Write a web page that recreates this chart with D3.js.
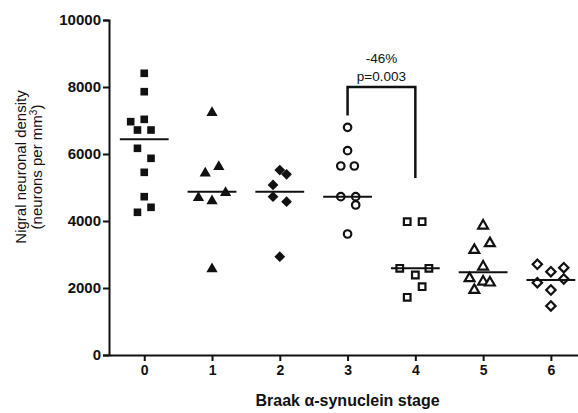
<!DOCTYPE html>
<html>
<head>
<meta charset="utf-8">
<script src="https://cdn.jsdelivr.net/npm/d3@7"></script>
<style>
  body { margin: 0; background: #fff; }
  svg text { font-family: "Liberation Sans", Arial, sans-serif; fill: #111; }
</style>
</head>
<body>
<svg id="chart" width="578" height="413"></svg>
<script>
// stages on the x axis
const stages = [0, 1, 2, 3, 4, 5, 6];
// y ticks
const yTicks = [0, 2000, 4000, 6000, 8000, 10000];

// neuronal density per stage (neurons per mm3)
const stage0 = [8409, 7860, 6965, 7035, 6716, 6716, 6170, 5871, 5453, 4726, 4260, 4409];
const stage1 = [7234, 5423, 5622, 4697, 4597, 4846, 2567];
const stage2 = [5522, 5394, 5075, 4726, 4576, 2934];
const stage3 = [6797, 6099, 5642, 5642, 4726, 4726, 4478, 3612];
const stage4 = [3980, 3980, 2587, 2388, 2587, 2040, 1722];
const stage5 = [3860, 3134, 3334, 2636, 2289, 2188, 2159, 1940];
const stage6 = [2707, 2487, 2607, 2159, 1940, 2269, 1463];

// horizontal scatter of each point (in stage units), as in the figure
const spread0 = [0, 0, -0.2, 0, -0.1, 0.1, -0.1, 0.1, 0, 0, -0.1, 0.1];
const spread1 = [0, -0.1, 0.1, -0.2, 0, 0.2, 0];
const spread2 = [0, 0.1, -0.1, -0.1, 0.1, 0];
const spread3 = [0, 0, -0.1, 0.1, -0.1, 0.12, 0.12, 0];
const spread4 = [-0.12, 0.1, -0.23, 0, 0.2, 0.1, -0.12];
const spread5 = [0, -0.13, 0.1, 0, -0.2, 0, 0.1, -0.13];
const spread6 = [-0.2, 0, 0.19, -0.2, 0, 0.19, 0];

// center lines
const centers = [6438, 4876, 4876, 4726, 2587, 2468, 2239];

// comparison bracket between stage 3 and 4
const bracket = { from: 3, to: 4, top: 8000, leftEnd: 7150, rightEnd: 5280 };
const bracketLabels = ["-46%", "p=0.003"];

const groups = [
  { stage: 0, values: stage0, spread: spread0, shape: "square", filled: true },
  { stage: 1, values: stage1, spread: spread1, shape: "triangle", filled: true },
  { stage: 2, values: stage2, spread: spread2, shape: "diamond", filled: true },
  { stage: 3, values: stage3, spread: spread3, shape: "circle", filled: false },
  { stage: 4, values: stage4, spread: spread4, shape: "square", filled: false },
  { stage: 5, values: stage5, spread: spread5, shape: "triangle", filled: false },
  { stage: 6, values: stage6, spread: spread6, shape: "diamond", filled: false }
];

const svg = d3.select("#chart");
const x = d3.scaleLinear().domain([-0.52, 6.4]).range([109, 578]);
const y = d3.scaleLinear().domain([0, 10000]).range([355, 20]);

// axes
const yAxis = d3.axisLeft(y).tickValues(yTicks).tickSize(6).tickPadding(2).tickFormat(d3.format("d"));
const gy = svg.append("g").attr("transform", "translate(109,0)").call(yAxis);
gy.select(".domain").attr("stroke", "#111").attr("stroke-width", 2);
gy.selectAll(".tick line").attr("stroke", "#111").attr("stroke-width", 2);
gy.selectAll(".tick text").attr("font-size", 15).attr("font-weight", "bold")
  .style("font-family", "'Liberation Sans', Arial, sans-serif").attr("fill", "#111");

const xAxis = d3.axisBottom(x).tickValues(stages).tickSize(6).tickPadding(4).tickSizeOuter(0).tickFormat(d3.format("d"));
const gx = svg.append("g").attr("transform", "translate(0,355)").call(xAxis);
gx.select(".domain").attr("stroke", "#111").attr("stroke-width", 2);
gx.selectAll(".tick line").attr("stroke", "#111").attr("stroke-width", 2);
gx.selectAll(".tick text").attr("font-size", 14).attr("font-weight", "bold")
  .style("font-family", "'Liberation Sans', Arial, sans-serif").attr("fill", "#111");

// axis titles
svg.append("text")
  .attr("x", x(3)).attr("y", 406)
  .attr("text-anchor", "middle").attr("font-size", 16).attr("font-weight", "bold")
  .text("Braak α-synuclein stage");

const yTitle = svg.append("text")
  .attr("transform", "translate(26,167) rotate(-90)")
  .attr("text-anchor", "middle").attr("font-size", 15);
yTitle.append("tspan").attr("x", 0).attr("dy", 0).text("Nigral neuronal density");
const t2 = yTitle.append("tspan").attr("x", 0).attr("dy", 16).text("(neurons per mm");
t2.append("tspan").attr("font-size", 10).attr("dy", -5).text("3");
t2.append("tspan").attr("dy", 5).text(")");

// symbols
const symbolType = {
  square: d3.symbolSquare,
  triangle: d3.symbolTriangle,
  diamond: d3.symbolSquare,
  circle: d3.symbolCircle
};

groups.forEach(g => {
  const size = g.filled ? 58 : 44;
  svg.append("g").selectAll("path")
    .data(g.values)
    .join("path")
    .attr("d", d3.symbol().type(symbolType[g.shape]).size(g.shape === "triangle" ? size * 0.95 : size))
    .attr("transform", (d, i) => {
      const px = x(g.stage + g.spread[i]);
      const py = y(d);
      return "translate(" + px + "," + py + ")" + (g.shape === "diamond" ? " rotate(45)" : "");
    })
    .attr("fill", g.filled ? "#111" : "#fff")
    .attr("stroke", "#111")
    .attr("stroke-width", g.filled ? 0 : 2.2);
});

// center lines
svg.append("g").selectAll("line")
  .data(centers)
  .join("line")
  .attr("x1", (d, i) => x(stages[i] - 0.36))
  .attr("x2", (d, i) => x(stages[i] + 0.36))
  .attr("y1", d => y(d))
  .attr("y2", d => y(d))
  .attr("stroke", "#111")
  .attr("stroke-width", 2);

// bracket
svg.append("path")
  .attr("d", d3.line()([
    [x(bracket.from), y(bracket.leftEnd)],
    [x(bracket.from), y(bracket.top)],
    [x(bracket.to), y(bracket.top)],
    [x(bracket.to), y(bracket.rightEnd)]
  ]))
  .attr("fill", "none").attr("stroke", "#111").attr("stroke-width", 2.5);

const midX = (x(bracket.from) + x(bracket.to)) / 2;
svg.append("text").attr("x", midX).attr("y", y(bracket.top) - 24)
  .attr("text-anchor", "middle").attr("font-size", 13.5).text(bracketLabels[0]);
svg.append("text").attr("x", midX).attr("y", y(bracket.top) - 6)
  .attr("text-anchor", "middle").attr("font-size", 13.5).text(bracketLabels[1]);
</script>
</body>
</html>
